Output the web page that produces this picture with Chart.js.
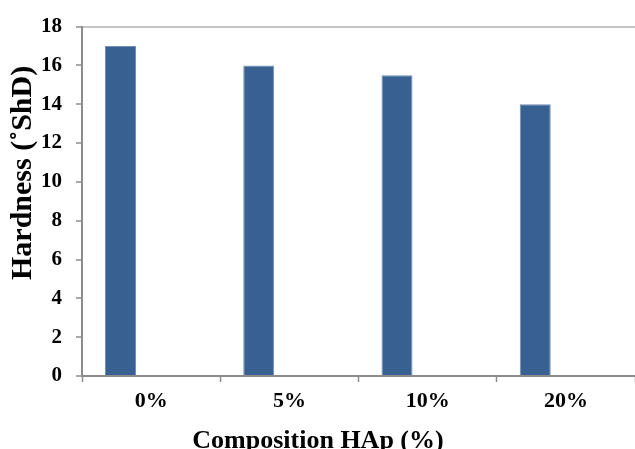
<!DOCTYPE html>
<html>
<head>
<meta charset="utf-8">
<title>Hardness vs Composition HAp</title>
<script src="https://cdn.jsdelivr.net/npm/chart.js@4.4.1/dist/chart.umd.min.js"></script>
<style>
  html, body { margin: 0; padding: 0; background: #fff; }
  canvas { display: block; }
</style>
</head>
<body>
<canvas id="cHardness" width="635" height="449"></canvas>
<script>
const etiquetas = ["0%", "5%", "10%", "20%"];
const dureza = [17, 16, 15.5, 14];
const vacia = [null, null, null, null];   // second (empty) series of the sheet, keeps bars to the left
const ejeYmin = 0;
const ejeYmax = 18;
const ejeYpaso = 2;
const tituloX = "Composition HAp (%)";
const tituloY = "Hardness (˚ShD)";

const fuente = "'Liberation Serif', 'Times New Roman', serif";
const gris = "#8c8c8c";

// axis titles drawn by hand: in the picture they are not centred on the plot area
const titulos = {
  id: "titulos",
  afterDraw(chart) {
    const ctx = chart.ctx;
    ctx.save();
    ctx.fillStyle = "#000";
    ctx.font = "bold 26px " + fuente;
    ctx.textAlign = "center";
    ctx.textBaseline = "alphabetic";
    ctx.fillText(tituloX, 318, 448);
    ctx.translate(31, 280);
    ctx.rotate(-Math.PI / 2);
    ctx.font = "bold 30px " + fuente;
    ctx.textAlign = "left";
    ctx.fillText(tituloY, 0, 0);
    ctx.restore();
  }
};

const ctx = document.getElementById("cHardness");
const myChart = new Chart(ctx, {
  type: "bar",
  data: {
    labels: etiquetas,
    datasets: [{
      label: "Hardness",
      data: dureza,
      backgroundColor: "#386090",
      borderColor: "#6f8fb8",
      borderWidth: 1,
      categoryPercentage: 0.886,
      barPercentage: 0.506
    },
    {
      label: "",
      data: vacia,
      categoryPercentage: 0.886,
      barPercentage: 0.506
    }]
  },
  options: {
    responsive: false,
    animation: false,
    layout: { padding: { top: 21, left: 0, right: 0, bottom: 0 } },
    plugins: {
      legend: { display: false },
      tooltip: { enabled: false }
    },
    scales: {
      x: {
        grid: { offset: true, color: "transparent", tickColor: gris, tickLength: 6, tickWidth: 1.5 },
        border: { color: gris, width: 2 },
        ticks: { color: "#000", padding: 6, font: { family: fuente, size: 22, weight: "bold" } },
        afterFit(scale) { scale.height = 73; }
      },
      y: {
        min: ejeYmin,
        max: ejeYmax,
        grid: {
          color: (c) => c.tick && c.tick.value === ejeYmax ? "#c4c4c4" : "transparent",
          lineWidth: 2,
          tickColor: gris,
          tickLength: 6,
          tickWidth: 1.5
        },
        border: { color: gris, width: 2 },
        ticks: { stepSize: ejeYpaso, color: "#000", padding: 14, font: { family: fuente, size: 21, weight: "bold" } },
        afterFit(scale) { scale.width = 82; }
      }
    }
  },
  plugins: [titulos]
});
</script>
</body>
</html>
